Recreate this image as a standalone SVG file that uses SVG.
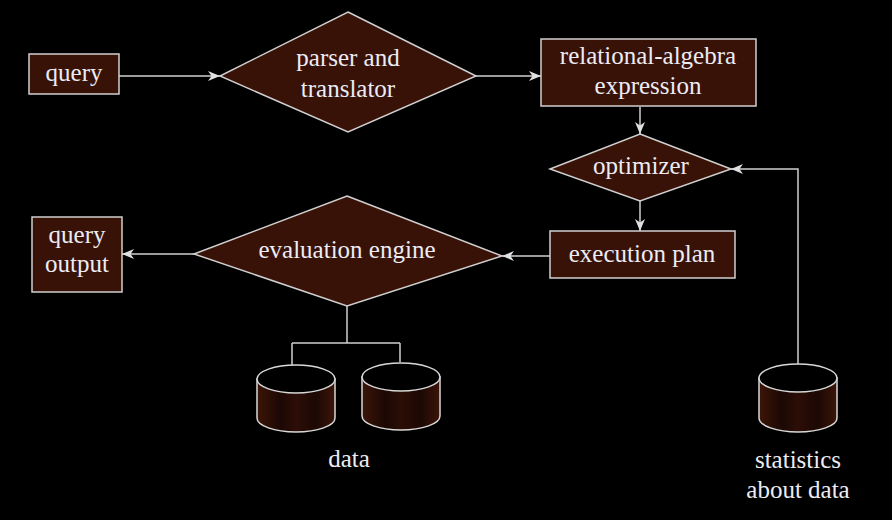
<svg xmlns="http://www.w3.org/2000/svg" width="892" height="520" viewBox="0 0 892 520">
<defs>
<style>
.box{fill:#381207;stroke:#d0d0d0;stroke-width:1.5}
.ln{fill:none;stroke:#d0d0d0;stroke-width:1.5}
.t{font-size:25px;fill:#ececf4;text-anchor:middle}
.cyl{fill:url(#cg);stroke:#d8d8d8;stroke-width:1.5}
.top{fill:#000;stroke:#d8d8d8;stroke-width:1.5}
</style>
<linearGradient id="cg" x1="0" y1="0" x2="1" y2="0">
<stop offset="0" stop-color="#3c1508"/>
<stop offset="0.3" stop-color="#1c0804"/>
<stop offset="0.5" stop-color="#2c0e06"/>
<stop offset="0.75" stop-color="#1c0804"/>
<stop offset="1" stop-color="#3c1508"/>
</linearGradient>
<marker id="ah" viewBox="0 0 12 10" refX="12" refY="5" markerWidth="12" markerHeight="10" markerUnits="userSpaceOnUse" orient="auto">
<path d="M0,0 L12,5 L0,10 L3.5,5 Z" fill="#e0e0e0"/>
</marker>
</defs>
<rect width="892" height="520" fill="#000"/>
<g id="connectors">
<path class="ln" d="M119,76 H220" marker-end="url(#ah)"/>
<path class="ln" d="M476,76 H541" marker-end="url(#ah)"/>
<path class="ln" d="M640,107 V134" marker-end="url(#ah)"/>
<path class="ln" d="M640,201 V231" marker-end="url(#ah)"/>
<path class="ln" d="M550,256 H502" marker-end="url(#ah)"/>
<path class="ln" d="M194,254 H122" marker-end="url(#ah)"/>
<path class="ln" d="M798,365 V169 H731" marker-end="url(#ah)"/>
<path class="ln" d="M347,306 V343 M292,343 H400 M292,343 V365 M400,343 V362"/>
</g>
<g font-family="Liberation Serif, serif">
<g id="query">
<rect class="box" x="29" y="54" width="90" height="40"/>
<text class="t" x="74" y="81">query</text>
</g>
<g id="parser">
<polygon class="box" points="348,12 476,76 348,132 220,76"/>
<text class="t" x="348" y="66">parser and</text>
<text class="t" x="348" y="97">translator</text>
</g>
<g id="relalg">
<rect class="box" x="541" y="39" width="215" height="67"/>
<text class="t" x="648" y="64">relational-algebra</text>
<text class="t" x="648" y="94">expression</text>
</g>
<g id="optimizer">
<polygon class="box" points="640,134 731,169 640,201 550,169"/>
<text class="t" x="641" y="174">optimizer</text>
</g>
<g id="execplan">
<rect class="box" x="550" y="231" width="185" height="47"/>
<text class="t" x="642" y="262">execution plan</text>
</g>
<g id="evaluation">
<polygon class="box" points="347,196 502,256 347,306 194,254"/>
<text class="t" x="347" y="258">evaluation engine</text>
</g>
<g id="queryoutput">
<rect class="box" x="32" y="217" width="90" height="75"/>
<text class="t" x="77" y="243">query</text>
<text class="t" x="77" y="272">output</text>
</g>
<g id="data1">
<path class="cyl" d="M257,379 V418 A39,14 0 0 0 335,418 V379 Z"/>
<ellipse class="top" cx="296" cy="379" rx="39" ry="14"/>
</g>
<g id="data2">
<path class="cyl" d="M362,377 V416 A39,14 0 0 0 440,416 V377 Z"/>
<ellipse class="top" cx="401" cy="377" rx="39" ry="14"/>
</g>
<text class="t" x="349" y="467">data</text>
<g id="stats">
<path class="cyl" d="M759,378 V418 A39,14 0 0 0 837,418 V378 Z"/>
<ellipse class="top" cx="798" cy="378" rx="39" ry="14"/>
<text class="t" x="798" y="468">statistics</text>
<text class="t" x="798" y="498">about data</text>
</g>
</g>
</svg>
